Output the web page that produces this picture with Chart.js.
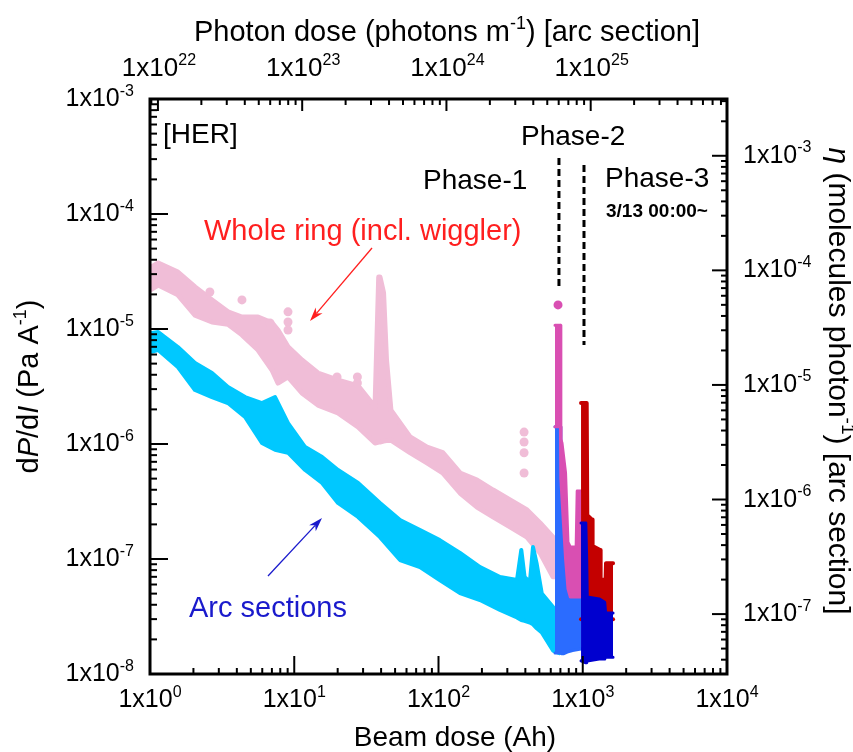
<!DOCTYPE html>
<html><head><meta charset="utf-8">
<script src="https://cdn.jsdelivr.net/npm/chart.js@4/dist/chart.umd.min.js"></script>
<style>html,body{margin:0;padding:0;background:#fff;}canvas{display:block;}</style>
</head><body>
<canvas id="c" width="853" height="752"></canvas>
<script>
// ---------------- data ----------------
// Axis ranges
const beamDoseRange = [1, 1e4];            // Ah (bottom)
const dPdIRange = [1e-8, 1e-3];            // Pa/A (left)
const photonDoseRange = [8.81e21, 8.81e25];// photons/m (top)
const etaRange = [3.13e-8, 3.13e-3];       // molecules/photon (right)

// Tick label exponents
const bottomTickExps = [0, 1, 2, 3, 4];
const leftTickExps = [-3, -4, -5, -6, -7, -8];
const topTickExps = [22, 23, 24, 25];
const rightTickExps = [-3, -4, -5, -6, -7];

// Phase-1, whole ring (pink) : upper / lower envelope of the point cloud
const pinkX  = [1, 1.14, 1.56, 2.05, 2.69, 3.47, 4.34, 5.61, 7.01, 7.71, 9.05, 11.3, 14.6, 20.1, 27.7, 36.3, 38.5, 39.3, 41.6, 43.6, 46.8, 63.5, 83.2, 107, 141, 185, 239, 313, 411, 506, 622, 660];
const pinkHi = [3.39e-5, 3.75e-5, 3.13e-5, 2.32e-5, 1.79e-5, 1.41e-5, 1.27e-5, 1.27e-5, 1.13e-5, 9.8e-6, 7.0e-6, 5.37e-6, 4.14e-6, 3.6e-6, 3.2e-6, 2.1e-6, 2.83e-5, 2.83e-5, 2.06e-5, 5.4e-6, 1.97e-6, 1.15e-6, 9.4e-7, 8.4e-7, 5.6e-7, 4.86e-7, 3.98e-7, 3.26e-7, 2.67e-7, 2.06e-7, 1.55e-7, 1.4e-7];
const pinkLo = [2.18e-5, 2.41e-5, 1.98e-5, 1.32e-5, 1.15e-5, 1.1e-5, 8.9e-6, 6.56e-6, 4.4e-6, 3.39e-6, 3.83e-6, 2.78e-6, 2.18e-6, 1.86e-6, 1.41e-6, 1.02e-6, 1.04e-6, 1.04e-6, 1.06e-6, 1.07e-6, 1.08e-6, 8.4e-7, 6.84e-7, 5.6e-7, 3.75e-7, 2.83e-7, 2.32e-7, 1.9e-7, 1.55e-7, 1.13e-7, 7.0e-8, 7.0e-8];
// isolated whole-ring points
const pinkDotX = [2.6, 4.34, 6.79, 9.05, 9.05, 9.05, 19.8, 27.4, 27.4, 27.4, 392, 392, 392, 392];
const pinkDotY = [2.1e-5, 1.79e-5, 1.13e-5, 1.41e-5, 1.15e-5, 9.8e-6, 3.83e-6, 3.83e-6, 3.39e-6, 3.0e-6, 1.27e-6, 1.04e-6, 8.4e-7, 5.6e-7];

// Phase-1, arc sections (cyan)
const cyanX  = [1, 1.14, 1.56, 2.05, 2.69, 3.47, 4.56, 5.97, 7.36, 9.05, 11.9, 15.6, 20.1, 27.7, 39.3, 54.1, 74.5, 102, 141, 194, 267, 350, 375, 395, 430, 452, 480, 520, 622, 690];
const cyanHi = [9.2e-6, 9.4e-6, 6.97e-6, 5.06e-6, 4.14e-6, 3.13e-6, 2.56e-6, 2.27e-6, 2.56e-6, 1.52e-6, 9.4e-7, 7.7e-7, 5.94e-7, 4.58e-7, 3.07e-7, 2.18e-7, 1.79e-7, 1.46e-7, 1.13e-7, 8.5e-8, 6.97e-8, 6.56e-8, 1.2e-7, 7.0e-8, 6.3e-8, 1.27e-7, 9.0e-8, 5.0e-8, 3.83e-8, 3.0e-8];
const cyanLo = [6.3e-6, 6.56e-6, 4.67e-6, 2.95e-6, 2.56e-6, 2.27e-6, 1.72e-6, 1.02e-6, 8.9e-7, 8.4e-7, 5.94e-7, 4.58e-7, 3.07e-7, 2.32e-7, 1.55e-7, 9.8e-8, 8.5e-8, 6.56e-8, 5.06e-8, 4.4e-8, 3.6e-8, 3.1e-8, 2.95e-8, 2.9e-8, 2.8e-8, 2.7e-8, 2.5e-8, 2.3e-8, 1.6e-8, 1.52e-8];

// Phase-2, whole ring (magenta)
const magX  = [642, 700, 705, 718, 760, 790, 820, 900, 915, 973];
const magHi = [1.08e-5, 1.08e-5, 1.1e-6, 1.02e-6, 5.6e-7, 1.4e-7, 1.27e-7, 1.27e-7, 3.9e-7, 3.9e-7];
const magLo = [1.41e-6, 1.41e-6, 5.0e-7, 3.3e-7, 1.0e-7, 5.5e-8, 4.67e-8, 4.67e-8, 4.67e-8, 4.67e-8];
const magDotX = [674];
const magDotY = [1.62e-5];

// Phase-2, arc sections (blue)
const blue2X  = [642, 700, 705, 718, 740, 780, 850, 973];
const blue2Hi = [1.41e-6, 1.41e-6, 6.0e-7, 2.5e-7, 1.5e-7, 6.5e-8, 6.0e-8, 6.0e-8];
const blue2Lo = [1.52e-8, 1.52e-8, 1.52e-8, 1.5e-8, 1.5e-8, 1.55e-8, 1.6e-8, 1.65e-8];

// Phase-3, whole ring (dark red)
const redX  = [973, 1065, 1075, 1160, 1170, 1320, 1330, 1440, 1450, 1622];
const redHi = [2.27e-6, 2.27e-6, 2.4e-7, 2.2e-7, 1.3e-7, 1.2e-7, 6.6e-8, 6.6e-8, 9.2e-8, 9.2e-8];
const redLo = [3.0e-8, 3.0e-8, 3.0e-8, 3.0e-8, 3.0e-8, 3.0e-8, 3.0e-8, 3.0e-8, 3.0e-8, 3.0e-8];

// Phase-3, arc sections (dark blue)
const dbX  = [973, 1050, 1065, 1075, 1300, 1420, 1440, 1622];
const dbHi = [2.06e-7, 2.06e-7, 1.0e-7, 4.67e-8, 4.5e-8, 4.2e-8, 3.4e-8, 3.4e-8];
const dbLo = [1.3e-8, 1.25e-8, 1.25e-8, 1.3e-8, 1.35e-8, 1.35e-8, 1.4e-8, 1.4e-8];

// Phase boundaries (dashed)
const phase2LineX = [684, 684];
const phase2LineY = [3.07e-4, 2.18e-5];
const phase3LineX = [1020, 1020];
const phase3LineY = [2.67e-4, 7.26e-6];

// ---------------- chart ----------------
const FAM = '"Liberation Sans", Arial, Helvetica, sans-serif';
const COL = {pink:'#f0bdd7', cyan:'#00c8ff', mag:'#d94fb2', blue2:'#2b6cff', red:'#c40000', db:'#0000cf'};

function pts(xs, ys) { return xs.map((x, i) => ({x: x, y: ys[i]})); }
function band(xs, hi, lo, color, order, bw) {
  const base = {borderColor: color, backgroundColor: color, borderWidth: bw, pointRadius: 0,
    tension: 0, order: order, borderJoinStyle: 'round', borderCapStyle: 'round'};
  return [
    Object.assign({}, base, {data: pts(xs, hi), fill: false}),
    Object.assign({}, base, {data: pts(xs, lo), fill: '-1'})
  ];
}
function dots(xs, ys, color, order, r) {
  return {data: pts(xs, ys), showLine: false, pointRadius: r, pointBackgroundColor: color,
    pointBorderWidth: 0, borderColor: color, backgroundColor: color, order: order, fill: false};
}
function dashed(xs, ys, order) {
  return {data: pts(xs, ys), borderColor: '#000', borderWidth: 3, borderDash: [7, 4],
    pointRadius: 0, fill: false, order: order};
}

const datasets = [].concat(
  band(pinkX, pinkHi, pinkLo, COL.pink, 70, 5),
  [dots(pinkDotX, pinkDotY, COL.pink, 69, 4.5)],
  band(cyanX, cyanHi, cyanLo, COL.cyan, 60, 4),
  band(blue2X, blue2Hi, blue2Lo, COL.blue2, 50, 3),
  band(magX, magHi, magLo, COL.mag, 45, 3),
  [dots(magDotX, magDotY, COL.mag, 44, 4.5)],
  band(redX, redHi, redLo, COL.red, 40, 4),
  band(dbX, dbHi, dbLo, COL.db, 30, 3),
  [dashed(phase2LineX, phase2LineY, 10), dashed(phase3LineX, phase3LineY, 10)]
);

function drawRich(ctx, segs, x, y, align, size, color) {
  const sup = Math.round(size * 0.62);
  const fontOf = s => (s.bold ? 'bold ' : '') + (s.it ? 'italic ' : '') + (s.sup ? sup : size) + 'px ' + FAM;
  const widths = segs.map(s => { ctx.font = fontOf(s); return ctx.measureText(s.t).width; });
  const total = widths.reduce((a, b) => a + b, 0);
  let cx = align === 'center' ? x - total / 2 : (align === 'right' ? x - total : x);
  ctx.fillStyle = color || '#000';
  ctx.textAlign = 'left';
  ctx.textBaseline = 'alphabetic';
  segs.forEach((s, i) => {
    ctx.font = fontOf(s);
    ctx.fillText(s.t, cx, s.sup ? y - size * 0.42 : y);
    cx += widths[i];
  });
}
function powLabel(e) { return [{t: '1x10'}, {t: String(e), sup: true}]; }

function drawTicks(ctx, scale, horizontal, edge, dir, majorLen, minorLen) {
  const min = scale.min, max = scale.max;
  const e0 = Math.floor(Math.log10(min)), e1 = Math.ceil(Math.log10(max));
  for (let e = e0; e <= e1; e++) {
    for (let m = 1; m <= 9; m++) {
      const v = m * Math.pow(10, e);
      if (v < min * 0.9999 || v > max * 1.0001) continue;
      const p = scale.getPixelForValue(v);
      const len = m === 1 ? majorLen : minorLen;
      ctx.beginPath();
      if (horizontal) { ctx.moveTo(p, edge); ctx.lineTo(p, edge + dir * len); }
      else { ctx.moveTo(edge, p); ctx.lineTo(edge + dir * len, p); }
      ctx.stroke();
    }
  }
}

function arrow(ctx, x1, y1, x2, y2, color) {
  ctx.save();
  ctx.strokeStyle = color; ctx.fillStyle = color; ctx.lineWidth = 1.3;
  const ang = Math.atan2(y2 - y1, x2 - x1);
  const L = 14, W = 4.5, N = 10;
  const bx = x2 - Math.cos(ang) * N, by = y2 - Math.sin(ang) * N;
  ctx.beginPath(); ctx.moveTo(x1, y1); ctx.lineTo(bx, by); ctx.stroke();
  const px = -Math.sin(ang), py = Math.cos(ang);
  const hx = x2 - Math.cos(ang) * L, hy = y2 - Math.sin(ang) * L;
  ctx.beginPath();
  ctx.moveTo(x2, y2);
  ctx.lineTo(hx + px * W, hy + py * W);
  ctx.lineTo(bx, by);
  ctx.lineTo(hx - px * W, hy - py * W);
  ctx.closePath(); ctx.fill();
  ctx.restore();
}

const decor = {
  id: 'decor',
  afterDraw(chart) {
    const ctx = chart.ctx, a = chart.chartArea;
    const sx = chart.scales.x, sy = chart.scales.y, st = chart.scales.xTop, sr = chart.scales.yR;
    ctx.save();
    // ticks (inward)
    ctx.strokeStyle = '#000'; ctx.lineWidth = 2;
    drawTicks(ctx, sx, true, a.bottom, -1, 18, 6);
    drawTicks(ctx, st, true, a.top, 1, 12, 6);
    drawTicks(ctx, sy, false, a.left, 1, 18, 7);
    drawTicks(ctx, sr, false, a.right, -1, 15, 6);
    // frame
    ctx.lineWidth = 3;
    ctx.strokeRect(a.left, a.top, a.right - a.left, a.bottom - a.top);

    const TS = 25;
    bottomTickExps.forEach(e => drawRich(ctx, powLabel(e), sx.getPixelForValue(Math.pow(10, e)), a.bottom + 33, 'center', TS));
    leftTickExps.forEach(e => drawRich(ctx, powLabel(e), a.left - 16, sy.getPixelForValue(Math.pow(10, e)) + 7, 'right', TS));
    topTickExps.forEach(e => drawRich(ctx, powLabel(e), st.getPixelForValue(Math.pow(10, e)) + 1, 76, 'center', 26));
    rightTickExps.forEach(e => drawRich(ctx, powLabel(e), a.right + 16, sr.getPixelForValue(Math.pow(10, e)) + 7, 'left', TS));

    // axis titles
    drawRich(ctx, [{t: 'Beam dose (Ah)'}], 455, 746, 'center', 28);
    drawRich(ctx, [{t: 'Photon dose (photons m'}, {t: '-1', sup: true}, {t: ') [arc section]'}], 447, 41, 'center', 29);
    ctx.save();
    ctx.translate(38, (a.top + a.bottom) / 2);
    ctx.rotate(-Math.PI / 2);
    drawRich(ctx, [{t: 'd'}, {t: 'P', it: true}, {t: '/d'}, {t: 'I', it: true}, {t: ' (Pa A'}, {t: '-1', sup: true}, {t: ')'}], 0, 0, 'center', 29);
    ctx.restore();
    ctx.save();
    ctx.translate(829, 381);
    ctx.rotate(Math.PI / 2);
    drawRich(ctx, [{t: '\u03B7', it: true}, {t: ' (molecules photon'}, {t: '-1', sup: true}, {t: ') [arc section]'}], 0, 0, 'center', 30);
    ctx.restore();

    // annotations
    drawRich(ctx, [{t: '[HER]'}], 163, 143, 'left', 28);
    drawRich(ctx, [{t: 'Phase-2'}], 521, 145, 'left', 28);
    drawRich(ctx, [{t: 'Phase-1'}], 423, 189, 'left', 28);
    drawRich(ctx, [{t: 'Phase-3'}], 605, 187, 'left', 28);
    drawRich(ctx, [{t: '3/13 00:00~', bold: true}], 606, 217, 'left', 19);
    drawRich(ctx, [{t: 'Whole ring (incl. wiggler)'}], 204, 240, 'left', 29, '#ff1f1f');
    drawRich(ctx, [{t: 'Arc sections'}], 189, 617, 'left', 29, '#1a1acc');
    arrow(ctx, 372, 248, 310, 321, '#ff1f1f');
    arrow(ctx, 268, 576, 322, 518, '#1a1acc');
    ctx.restore();
  }
};

const hidden = {ticks: {display: false}, grid: {display: false}, border: {display: false}, title: {display: false}};
new Chart(document.getElementById('c'), {
  type: 'line',
  data: {datasets: datasets},
  options: {
    responsive: false, animation: false, devicePixelRatio: 1,
    layout: {padding: 0, autoPadding: false},
    plugins: {legend: {display: false}, tooltip: {enabled: false}},
    scales: {
      x: Object.assign({type: 'logarithmic', position: 'bottom', min: beamDoseRange[0], max: beamDoseRange[1],
        afterFit(s) { s.height = 78; }}, hidden),
      xTop: Object.assign({type: 'logarithmic', position: 'top', min: photonDoseRange[0], max: photonDoseRange[1],
        afterFit(s) { s.height = 99; }}, hidden),
      y: Object.assign({type: 'logarithmic', position: 'left', min: dPdIRange[0], max: dPdIRange[1],
        afterFit(s) { s.width = 150; }}, hidden),
      yR: Object.assign({type: 'logarithmic', position: 'right', min: etaRange[0], max: etaRange[1],
        afterFit(s) { s.width = 126; }}, hidden)
    }
  },
  plugins: [decor]
});
</script>
</body></html>
